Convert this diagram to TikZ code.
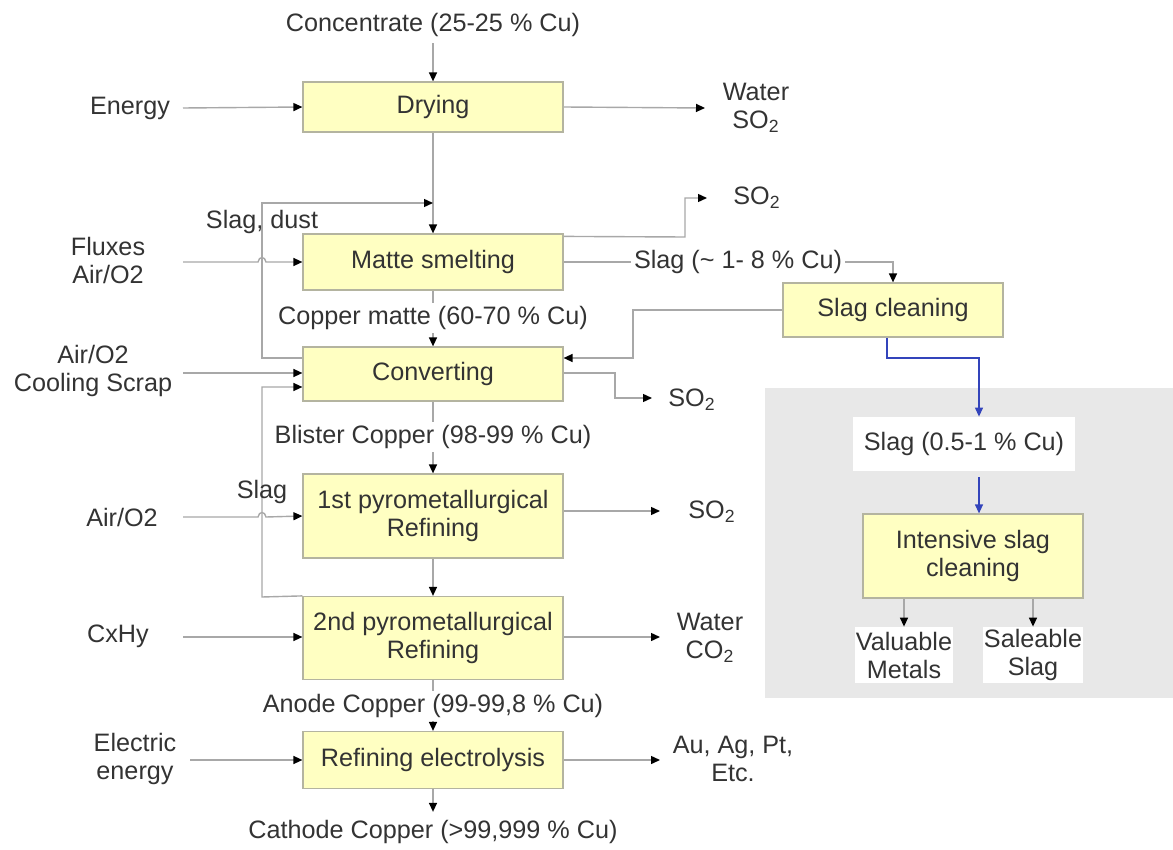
\documentclass[tikz,border=0pt]{standalone}
\usepackage{fontspec}
\setmainfont{Liberation Sans}
\usetikzlibrary{arrows.meta,backgrounds}
\definecolor{boxfill}{HTML}{FFFFC2}
\definecolor{boxline}{HTML}{B4B4A0}
\definecolor{linegrey}{HTML}{A8A8A8}
\definecolor{txt}{HTML}{333333}
\definecolor{bluel}{HTML}{3344BB}
\definecolor{regiongrey}{HTML}{E8E8E8}
\newcommand{\fsz}{\fontsize{12.6}{14}\selectfont}
\begin{document}
\begin{tikzpicture}[x=0.5pt,y=-0.5pt,
  box/.style={draw=boxline, fill=boxfill, line width=0.6pt, minimum width=130pt, align=center, inner sep=0pt, font=\fsz, text=txt},
  lbl/.style={align=center, inner sep=1.5pt, font=\fsz, text=txt},
  onl/.style={lbl, fill=white},
  wbox/.style={fill=white, align=center, inner sep=0pt, font=\fsz, text=txt},
  flow/.style={draw=linegrey, line width=0.7pt, -{Triangle[length=4.5pt,width=4pt,color=black]}},
  bflow/.style={draw=bluel, line width=0.6pt, -{Triangle[length=4.5pt,width=4pt,color=bluel]}}
]
\useasboundingbox (0,0) rectangle (1173,850);

% main boxes
\node[box, minimum height=25pt] (dry) at (433,107) {Drying};
\node[box, minimum height=28pt] (matte) at (433,262) {Matte smelting};
\node[box, minimum height=27pt] (conv) at (433,374) {Converting};
\node[box, minimum height=42pt] (pyro1) at (433,516) {1st pyrometallurgical\\Refining};
\node[box, minimum height=41.5pt] (pyro2) at (433,638) {2nd pyrometallurgical\\Refining};
\node[box, minimum height=28.5pt] (elec) at (433,760) {Refining electrolysis};
\node[box, minimum width=110pt, minimum height=27pt] (slagc) at (893,310) {Slag cleaning};
\node[box, minimum width=110pt, minimum height=42pt] (intens) at (973,556) {Intensive slag\\cleaning};

% white boxes in grey region
\node[wbox, minimum width=111pt, minimum height=27pt] (slag05) at (964,444) {Slag (0.5-1 \% Cu)};
\node[wbox, minimum width=49pt, minimum height=28pt] (val) at (904,655) {Valuable\\Metals};
\node[wbox, minimum width=50pt, minimum height=28pt] (sale) at (1033,655) {Saleable\\Slag};

% labels
\node[lbl, inner sep=3pt] (conc) at (433,25) {Concentrate (25-25 \% Cu)};
\node[lbl] (energy) at (130,108) {Energy};
\node[lbl] (waterso) at (756,108) {Water\\SO\textsubscript{2}};
\node[lbl] (slagdust) at (262,222) {Slag, dust};
\node[lbl] (fluxes) at (108,260) {Fluxes\\Air/O2};
\node[lbl] (so2a) at (757,198) {SO\textsubscript{2}};
\node[onl] (slag18) at (738,262) {Slag (\textasciitilde{} 1- 8 \% Cu)};
\node[onl] (cmatte) at (433,318) {Copper matte (60-70 \% Cu)};
\node[lbl] (airscrap) at (93,371) {Air/O2\\Cooling Scrap};
\node[lbl] (so2b) at (692,400) {SO\textsubscript{2}};
\node[onl] (blister) at (433,437) {Blister Copper (98-99 \% Cu)};
\node[lbl] (slaglbl) at (262,492) {Slag};
\node[lbl] (air3) at (122,517) {Air/O2};
\node[lbl] (so2c) at (712,512) {SO\textsubscript{2}};
\node[lbl] (cxhy) at (118,636) {CxHy};
\node[lbl] (waterco) at (710,638) {Water\\CO\textsubscript{2}};
\node[onl] (anode) at (433,706) {Anode Copper (99-99,8 \% Cu)};
\node[lbl] (electric) at (135,759) {Electric\\energy};
\node[lbl] (metals) at (733,759) {Au, Ag, Pt,\\Etc.};
\node[lbl, inner sep=4pt] (cathode) at (433,832) {Cathode Copper (>99,999 \% Cu)};

% coordinates
\coordinate (eIn) at (183,108);
\coordinate (eOut) at (705,108);
\coordinate (jn) at (433,203);
\coordinate (sdA) at (262,358);
\coordinate (sdB) at (262,203);
\coordinate (fIn) at (183,262);
\coordinate (aIn) at (183,373);
\coordinate (sA) at (262,597);
\coordinate (sB) at (262,387);
\coordinate (a3In) at (183,517);
\coordinate (cIn) at (183,637);
\coordinate (elIn) at (190,760);
\coordinate (m1) at (685,237);
\coordinate (m2) at (685,198);
\coordinate (m3) at (707,198);
\coordinate (s1) at (893,262);
\coordinate (c1) at (633,310);
\coordinate (c2) at (633,358);
\coordinate (v1) at (615,373);
\coordinate (v2) at (615,398);
\coordinate (v3) at (652,398);
\coordinate (b1) at (887,358);
\coordinate (b2) at (979,358);
\coordinate (p1out) at (660,511);
\coordinate (p2out) at (660,637);
\coordinate (elout) at (660,760);

\begin{scope}[on background layer]
% grey region
\fill[regiongrey] (765,388) rectangle (1173,698);
\draw[flow] (conc.south) -- (dry.north);
\draw[flow] (eIn) -- (dry.west);
\draw[flow] (dry.east) -- (eOut);
\draw[flow] (dry.south) -- (matte.north);
% slag, dust loop from converting
\draw[flow] ([yshift=8pt]conv.west) -- (sdA) -- (sdB) -- (jn);
% fluxes with jump
\draw[flow] (fIn) -- (258,262) .. controls (259,256) and (265,256) .. (266,262) -- (matte.west);
% air / cooling scrap
\draw[flow] (aIn) -- ([yshift=0.5pt]conv.west);
% slag loop from refining
\draw[flow] (pyro2.north west) -- (sA) -- (sB) -- ([yshift=-6.5pt]conv.west);
% air to 1st refining with jump
\draw[flow] (a3In) -- (258,517) .. controls (259,511) and (265,511) .. (266,517) -- (pyro1.west);
\draw[flow] (cIn) -- ([yshift=0.5pt]pyro2.west);
\draw[flow] (elIn) -- (elec.west);
% matte outputs
\draw[flow] ([yshift=-1.5pt]matte.north east) -- (m1) -- (m2) -- (m3);
\draw[flow] (matte.east) -- (s1) -- (slagc.north);
% slag cleaning back to converting
\draw[flow] (slagc.west) -- (c1) -- (c2) -- ([yshift=8pt]conv.east);
% converting SO2
\draw[flow] ([yshift=0.5pt]conv.east) -- (v1) -- (v2) -- (v3);
% blue path
\draw[bflow] ([xshift=-3pt]slagc.south) -- (b1) -- (b2) -- ([xshift=7.5pt]slag05.north);
\draw[bflow] ([xshift=7.5pt,yshift=-3pt]slag05.south) -- ([xshift=3pt]intens.north);
\draw[flow] (intens.south -| val.north) -- (val.north);
\draw[flow] (intens.south -| sale.north) -- (sale.north);
% main chain
\draw[flow] (matte.south) -- (conv.north);
\draw[flow] (conv.south) -- (pyro1.north);
\draw[flow] (pyro1.south) -- (pyro2.north);
\draw[flow] (pyro2.south) -- (elec.north);
\draw[flow] (elec.south) -- (cathode.north);
\draw[flow] ([yshift=2.5pt]pyro1.east) -- (p1out);
\draw[flow] ([yshift=0.5pt]pyro2.east) -- (p2out);
\draw[flow] (elec.east) -- (elout);
\end{scope}
\end{tikzpicture}
\end{document}
